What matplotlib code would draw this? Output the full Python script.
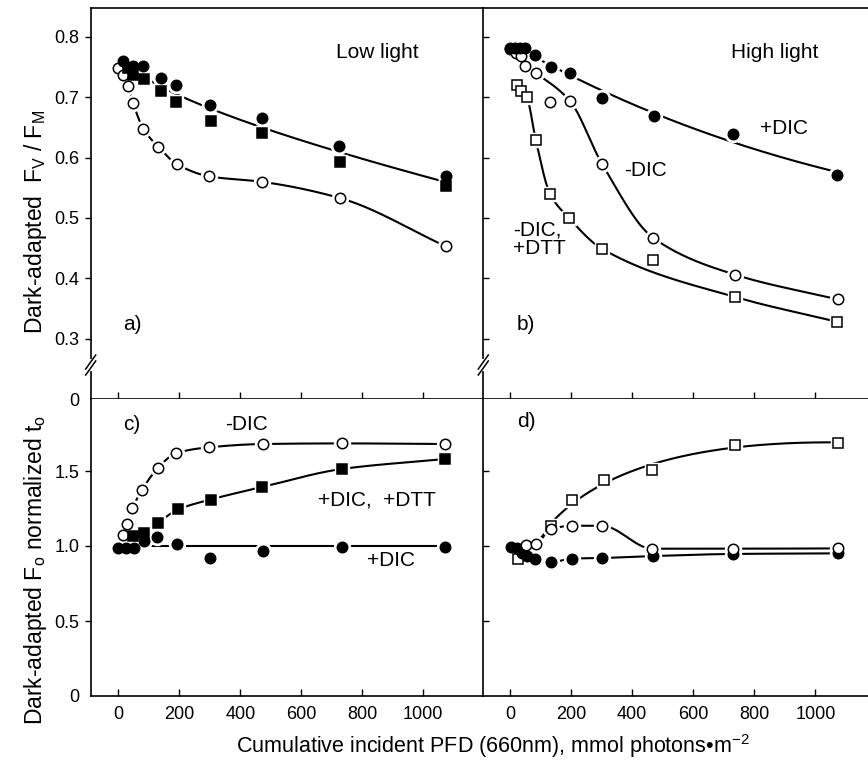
import matplotlib
matplotlib.use('Agg')
import matplotlib.pyplot as plt
from matplotlib.lines import Line2D
import numpy as np

plt.rcParams['font.family'] = ['Liberation Sans', 'DejaVu Sans']
plt.rcParams['mathtext.fontset'] = 'custom'
plt.rcParams['mathtext.rm'] = 'Liberation Sans'
plt.rcParams['mathtext.it'] = 'Liberation Sans:italic'

# panel a (low light, Fv/Fm)
a_open_x = [0, 16, 33, 49, 82, 131, 193, 298, 470, 727, 1074]
a_open_y = [0.748, 0.737, 0.719, 0.690, 0.648, 0.618, 0.589, 0.569, 0.560, 0.533, 0.453]
a_fc_x = [16, 49, 82, 139, 188, 302, 472, 724, 1074]
a_fc_y = [0.760, 0.752, 0.752, 0.732, 0.721, 0.688, 0.666, 0.619, 0.570]
a_fs_x = [33, 49, 84, 139, 188, 305, 472, 727, 1074]
a_fs_y = [0.748, 0.737, 0.730, 0.710, 0.693, 0.660, 0.641, 0.592, 0.553]

# panel b (high light, Fv/Fm)
b_fc_x = [0, 16, 33, 49, 83, 133, 197, 301, 472, 731, 1069]
b_fc_y = [0.781, 0.781, 0.781, 0.781, 0.770, 0.750, 0.740, 0.699, 0.669, 0.640, 0.571]
b_open_x = [0, 19, 36, 50, 85, 132, 196, 301, 469, 737, 1074]
b_open_y = [0.780, 0.773, 0.768, 0.752, 0.740, 0.692, 0.694, 0.590, 0.467, 0.406, 0.365]
b_os_x = [23, 37, 55, 84, 131, 193, 301, 467, 737, 1071]
b_os_y = [0.720, 0.710, 0.700, 0.630, 0.540, 0.500, 0.449, 0.430, 0.369, 0.328]

# panel c (low light, Fo normalized)
c_open_x = [14, 27, 46, 77, 129, 189, 298, 475, 732, 1071]
c_open_y = [1.075, 1.149, 1.251, 1.371, 1.518, 1.618, 1.658, 1.680, 1.684, 1.680]
c_fs_x = [49, 84, 129, 197, 303, 472, 732, 1071]
c_fs_y = [1.065, 1.090, 1.155, 1.244, 1.310, 1.393, 1.513, 1.580]
c_fc_x = [0, 24, 51, 84, 126, 191, 302, 475, 733, 1071]
c_fc_y = [0.985, 0.985, 0.985, 1.035, 1.058, 1.011, 0.918, 0.969, 0.993, 0.993]

# panel d (high light, Fo normalized)
d_os_x = [27, 134, 204, 309, 465, 735, 1073]
d_os_y = [0.911, 1.133, 1.304, 1.440, 1.504, 1.673, 1.689]
d_open_x = [52, 84, 133, 204, 301, 466, 731, 1073]
d_open_y = [1.007, 1.013, 1.111, 1.135, 1.135, 0.982, 0.982, 0.984]
d_fc_x = [2, 24, 38, 55, 82, 133, 202, 302, 469, 731, 1073]
d_fc_y = [0.996, 0.990, 0.955, 0.933, 0.916, 0.891, 0.916, 0.920, 0.933, 0.947, 0.951]

xticks = [0, 200, 400, 600, 800, 1000]

W, H = 868, 768


def pchip(x, y, xs):
	x = np.asarray(x, float)
	y = np.asarray(y, float)
	h = np.diff(x)
	d = np.diff(y) / h
	m = np.zeros_like(y)
	for k in range(1, len(x) - 1):
		if d[k-1] * d[k] > 0:
			w1 = 2 * h[k] + h[k-1]
			w2 = h[k] + 2 * h[k-1]
			m[k] = (w1 + w2) / (w1 / d[k-1] + w2 / d[k])
	m[0] = d[0]
	m[-1] = d[-1]
	i = np.clip(np.searchsorted(x, xs) - 1, 0, len(h) - 1)
	t = (xs - x[i]) / h[i]
	h00 = 2*t**3 - 3*t**2 + 1
	h10 = t**3 - 2*t**2 + t
	h01 = -2*t**3 + 3*t**2
	h11 = t**3 - t**2
	return h00*y[i] + h10*h[i]*m[i] + h01*y[i+1] + h11*h[i]*m[i+1]


def curve(ax, x, y, x0=None, skip=()):
	keep = [k for k in range(len(x)) if k not in skip]
	x = np.asarray(x, float)[keep]
	y = np.asarray(y, float)[keep]
	if x0 is None:
		x0 = x[0]
	xs = np.linspace(x0, x[-1], 400)
	ax.plot(xs, pchip(x, y, xs), color='k', lw=1.5, zorder=2, solid_capstyle='butt')


def fit(ax, x, y, deg, x0, x1):
	p = np.polyfit(np.sqrt(np.asarray(x, float)), y, deg)
	xs = np.linspace(x0, x1, 400)
	ax.plot(xs, np.polyval(p, np.sqrt(xs)), color='k', lw=1.5, zorder=2)


def marks(ax, x, y, marker, filled, ms=7.5):
	ax.plot(x, y, ls='none', marker=marker, ms=ms + 4, mfc='white', mec='white', zorder=3)
	ax.plot(x, y, ls='none', marker=marker, ms=ms, mfc='k' if filled else 'white',
		mec='k', mew=1.1, zorder=4)


fig = plt.figure(figsize=(W / 100, H / 100), dpi=100)
lx, lw_ = 90.7 / W, (483.3 - 90.7) / W
rx, rw = 483.3 / W, (W - 483.3) / W
tb, th = 1 - 399 / H, 391 / H
bb, bh = 1 - 696 / H, 297 / H

ax_a = fig.add_axes([lx, tb, lw_, th])
ax_b = fig.add_axes([rx, tb, rw, th])
ax_c = fig.add_axes([lx, bb, lw_, bh])
ax_d = fig.add_axes([rx, bb, rw, bh])

for ax in (ax_a, ax_c):
	ax.set_xlim(-90.5, 1197)
for ax in (ax_b, ax_d):
	ax.set_xlim(-87.4, 1172)
for ax in (ax_a, ax_b):
	ax.set_ylim(0.2, 0.848)
	ax.set_yticks([0.2, 0.3, 0.4, 0.5, 0.6, 0.7, 0.8])
for ax in (ax_c, ax_d):
	ax.set_ylim(0, 1.98)
	ax.set_yticks([0, 0.5, 1.0, 1.5])

for ax in (ax_a, ax_b, ax_c, ax_d):
	ax.set_xticks(xticks)
	ax.spines['right'].set_visible(False)
	for s in ax.spines.values():
		s.set_linewidth(1.2)
	ax.tick_params(axis='x', direction='in', length=5, width=1.0, top=False)
	ax.tick_params(axis='y', width=1.0)
for ax in (ax_c, ax_d):
	ax.spines['top'].set_visible(False)

ax_a.set_yticklabels(['0', '0.3', '0.4', '0.5', '0.6', '0.7', '0.8'])
ax_c.set_yticklabels(['0', '0.5', '1.0', '1.5'])
for ax in (ax_a, ax_c):
	ax.tick_params(axis='y', direction='out', length=4.5, pad=3.5, labelsize=13)
	ax.yaxis.get_major_ticks()[0].tick1line.set_visible(False)
for ax in (ax_b, ax_d):
	ax.tick_params(axis='y', direction='in', length=4.5, labelleft=False)
	ax.yaxis.get_major_ticks()[0].tick1line.set_visible(False)
for ax in (ax_a, ax_b):
	ax.tick_params(axis='x', labelbottom=False)
for ax in (ax_c, ax_d):
	ax.tick_params(axis='x', pad=7, labelsize=13)

# a)
curve(ax_a, a_open_x, a_open_y)
fit(ax_a, a_fc_x + a_fs_x, a_fc_y + a_fs_y, 2, 84, 1074)
marks(ax_a, a_open_x, a_open_y, 'o', False)
marks(ax_a, a_fc_x, a_fc_y, 'o', True)
marks(ax_a, a_fs_x, a_fs_y, 's', True, 6.5)

# b)
fit(ax_b, b_fc_x, b_fc_y, 3, 0, 1069)
curve(ax_b, b_open_x, b_open_y, 19, skip=(5,))
curve(ax_b, b_os_x, b_os_y, skip=(7,))
marks(ax_b, b_os_x, b_os_y, 's', False, 6.5)
marks(ax_b, b_open_x, b_open_y, 'o', False)
marks(ax_b, b_fc_x, b_fc_y, 'o', True)

# c)
curve(ax_c, c_open_x, c_open_y)
curve(ax_c, c_fs_x, c_fs_y)
flat = np.mean(c_fc_y[3:])
ax_c.plot([c_fc_x[3], c_fc_x[-1]], [flat, flat], color='k', lw=1.5, zorder=2)
marks(ax_c, c_open_x, c_open_y, 'o', False)
marks(ax_c, c_fs_x, c_fs_y, 's', True, 6.5)
marks(ax_c, c_fc_x, c_fc_y, 'o', True)

# d)
fit(ax_d, d_os_x[1:], d_os_y[1:], 2, 134, 1073)
ax_d.plot([d_open_x[1], d_os_x[1]], [d_open_y[1], d_os_y[1]], color='k', lw=1.5, zorder=2)
curve(ax_d, d_open_x, d_open_y)
curve(ax_d, d_fc_x, d_fc_y)
marks(ax_d, d_os_x, d_os_y, 's', False, 6.5)
marks(ax_d, d_fc_x, d_fc_y, 'o', True)
marks(ax_d, d_open_x, d_open_y, 'o', False)

fs = 15
ax_a.text(851, 0.775, 'Low light', fontsize=fs, ha='center', va='center')
ax_b.text(867, 0.775, 'High light', fontsize=fs, ha='center', va='center')
ax_a.text(16, 0.323, 'a)', fontsize=fs, ha='left', va='center')
ax_b.text(23, 0.323, 'b)', fontsize=fs, ha='left', va='center')
ax_c.text(16, 1.807, 'c)', fontsize=fs, ha='left', va='center')
ax_d.text(23, 1.827, 'd)', fontsize=fs, ha='left', va='center')
ax_b.text(897, 0.648, '+DIC', fontsize=fs, ha='center', va='center')
ax_b.text(445, 0.578, '-DIC', fontsize=fs, ha='center', va='center')
ax_b.text(10, 0.465, '-DIC,\n+DTT', fontsize=fs, ha='left', va='center', linespacing=1.0)
ax_c.text(422, 1.807, '-DIC', fontsize=fs, ha='center', va='center')
ax_c.text(655, 1.307, '+DIC,  +DTT', fontsize=fs, ha='left', va='center')
ax_c.text(894, 0.90, '+DIC', fontsize=fs, ha='center', va='center')

fig.text(36 / W, 1 - 222 / H, r'Dark-adapted  F$_\mathrm{V}$ / F$_\mathrm{M}$', rotation=90,
	fontsize=16.5, ha='center', va='center')
fig.text(36 / W, 1 - 570 / H, r'Dark-adapted F$_\mathrm{o}$ normalized t$_\mathrm{o}$', rotation=90,
	fontsize=16.5, ha='center', va='center')
fig.text(493 / W, 1 - 746 / H, 'Cumulative incident PFD (660nm), mmol photons•m$^{-2}$',
	fontsize=15.5, ha='center', va='center')

# axis break marks
for cx in (90.7, 483.3):
	cy = 365
	fig.add_artist(Line2D([cx / W, cx / W], [1 - (cy - 4) / H, 1 - (cy + 4) / H],
		transform=fig.transFigure, color='white', lw=3))
	for off in (-3, 3):
		fig.add_artist(Line2D([(cx - 5) / W, (cx + 5) / W], [1 - (cy + off + 7) / H, 1 - (cy + off - 7) / H],
			transform=fig.transFigure, color='k', lw=1.1))

fig.savefig('out.png', dpi=100)
